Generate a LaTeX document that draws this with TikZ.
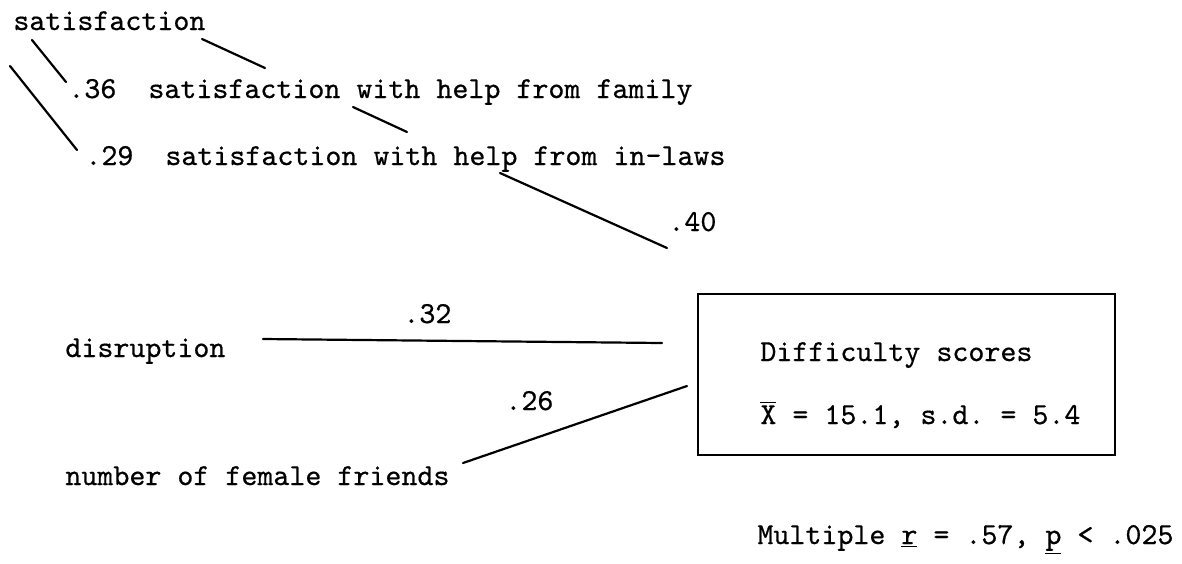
\documentclass[tikz,border=0pt]{standalone}
\usepackage{fontspec}
\setmonofont{lmmono10-regular.otf}[FakeBold=0.6]
\begin{document}
\begin{tikzpicture}[x=0.5pt,y=-0.5pt,
  lbl/.style={inner sep=0pt,anchor=base west,font=\fontsize{15.24}{18}\selectfont\ttfamily},
  conn/.style={line width=1.1pt,line cap=round},
  boxstyle/.style={draw,line width=1.1pt,inner sep=0pt,minimum width=208.5pt,minimum height=80.5pt}]
\useasboundingbox (0,0) rectangle (1182,563);
% labels
\node[lbl] (sat) at (13,30) {satisfaction};
\node[lbl] (v36) at (68,98) {.36};
\node[lbl] (fam) at (148,98) {satisfaction with help from family};
\node[lbl] (v29) at (85,165) {.29};
\node[lbl] (inl) at (165,165) {satisfaction with help from in-laws};
\node[lbl] (v40) at (668,231) {.40};
\node[lbl] (v32) at (403,323) {.32};
\node[lbl] (dis) at (65,357) {disruption};
\node[lbl] (v26) at (505,410) {.26};
\node[lbl] (fem) at (65,485) {number of female friends};
\node[boxstyle] (box) at (906.5,374.5) {};
\node[lbl] (diff) at (760,361) {Difficulty scores};
\node[lbl] (stat) at (760,424) {$\overline{\mbox{X}}$ = 15.1, s.d. = 5.4};
\node[lbl] (mult) at (757,544) {Multiple \underline{r} = .57, \underline{p} < .025};
% connector end points
\coordinate (a1) at (32,40);   \coordinate (a2) at (66,82);
\coordinate (b1) at (202,39);  \coordinate (b2) at (265,68);
\coordinate (c1) at (10,66);   \coordinate (c2) at (77,150);
\coordinate (d1) at (353,107); \coordinate (d2) at (407,132);
\coordinate (e1) at (500,173); \coordinate (e2) at (667,248);
\coordinate (f1) at (263,339); \coordinate (f2) at (662,343);
\coordinate (g1) at (463,463); \coordinate (g2) at (687,386);
% connectors
\draw[conn] (a1) -- (a2);
\draw[conn] (b1) -- (b2);
\draw[conn] (c1) -- (c2);
\draw[conn] (d1) -- (d2);
\draw[conn] (e1) -- (e2);
\draw[conn] (f1) -- (f2);
\draw[conn] (g1) -- (g2);
\end{tikzpicture}
\end{document}
